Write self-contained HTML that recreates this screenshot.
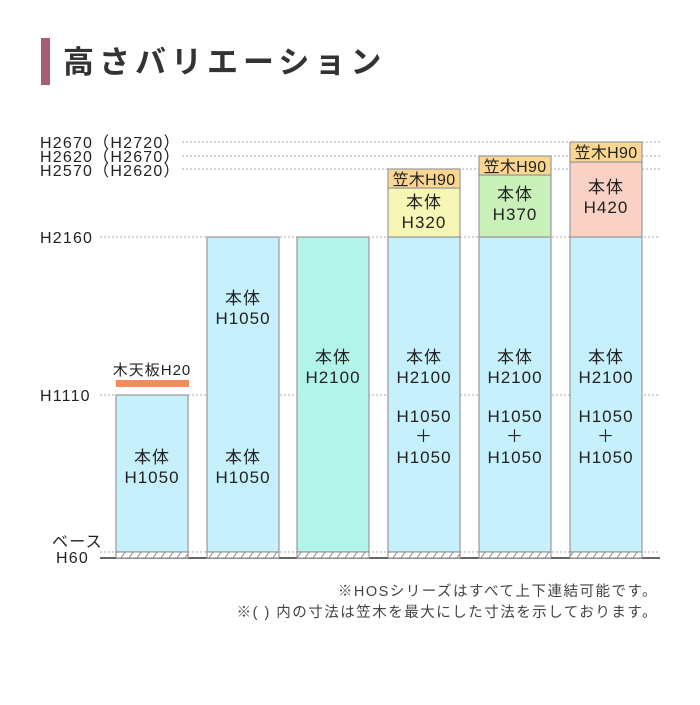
<!DOCTYPE html>
<html><head><meta charset="utf-8"><style>
html,body{margin:0;padding:0;background:#fff;}
svg text{font-family:"Liberation Sans","Noto Sans CJK JP",sans-serif;fill:#222;}
</style></head><body>
<svg width="700" height="700" viewBox="0 0 700 700" xmlns="http://www.w3.org/2000/svg">
<defs>
<pattern id="h" width="8" height="6" patternUnits="userSpaceOnUse">
<rect width="8" height="6" fill="#fff"/>
<line x1="1" y1="6" x2="5" y2="0" stroke="#888" stroke-width="1"/>
</pattern>
</defs>
<rect x="41" y="38" width="9" height="47" fill="#a65d75"/>
<text x="63" y="73" font-size="31" font-weight="bold" letter-spacing="5" style="fill:#333">高さバリエーション</text>

<g stroke="#aaa" stroke-width="1" stroke-dasharray="2,2">
<line x1="182" y1="142" x2="660" y2="142"/>
<line x1="182" y1="156" x2="660" y2="156"/>
<line x1="182" y1="169" x2="660" y2="169"/>
<line x1="100" y1="237" x2="660" y2="237"/>
<line x1="100" y1="395" x2="660" y2="395"/>
<line x1="100" y1="552" x2="660" y2="552"/>
</g>
<line x1="100" y1="558" x2="660" y2="558" stroke="#333" stroke-width="1.5"/>

<g font-size="16" letter-spacing="1.2">
<text x="40" y="148">H2670（H2720）</text>
<text x="40" y="162">H2620（H2670）</text>
<text x="40" y="176">H2570（H2620）</text>
<text x="40" y="243">H2160</text>
<text x="40" y="401">H1110</text>
<text x="52" y="547">ベース</text>
<text x="56" y="563">H60</text>
</g>

<g stroke="#999" stroke-width="1.2">
<rect x="116" y="395" width="72" height="157" fill="#c6f0fb"/>
<rect x="207" y="237" width="72" height="315" fill="#c6f0fb"/>
<rect x="297" y="237" width="72" height="315" fill="#b2f4ea"/>
<rect x="388" y="237" width="72" height="315" fill="#c6f0fb"/>
<rect x="479" y="237" width="72" height="315" fill="#c6f0fb"/>
<rect x="570" y="237" width="72" height="315" fill="#c6f0fb"/>
<rect x="388" y="188" width="72" height="49" fill="#f7f7b5"/>
<rect x="479" y="175" width="72" height="62" fill="#c9f0b9"/>
<rect x="570" y="162" width="72" height="75" fill="#f9d2c5"/>
<rect x="388" y="169" width="72" height="19" fill="#fbd690"/>
<rect x="479" y="156" width="72" height="19" fill="#fbd690"/>
<rect x="570" y="142" width="72" height="20" fill="#fbd690"/>
</g>
<g fill="url(#h)" stroke="#888" stroke-width="1">
<rect x="116" y="552" width="72" height="6"/>
<rect x="207" y="552" width="72" height="6"/>
<rect x="297" y="552" width="72" height="6"/>
<rect x="388" y="552" width="72" height="6"/>
<rect x="479" y="552" width="72" height="6"/>
<rect x="570" y="552" width="72" height="6"/>
</g>
<rect x="116" y="380" width="73" height="7" fill="#f58a5f"/>

<g font-size="17" text-anchor="middle" letter-spacing="1">
<text x="152" y="375" font-size="15">木天板H20</text>
<text x="152" y="463">本体</text><text x="152" y="483">H1050</text>
<text x="243" y="304">本体</text><text x="243" y="324">H1050</text>
<text x="243" y="463">本体</text><text x="243" y="483">H1050</text>
<text x="333" y="363">本体</text><text x="333" y="383">H2100</text>
<text x="424" y="363">本体</text><text x="424" y="383">H2100</text>
<text x="424" y="422">H1050</text><text x="424" y="442">＋</text><text x="424" y="463">H1050</text>
<text x="515" y="363">本体</text><text x="515" y="383">H2100</text>
<text x="515" y="422">H1050</text><text x="515" y="442">＋</text><text x="515" y="463">H1050</text>
<text x="606" y="363">本体</text><text x="606" y="383">H2100</text>
<text x="606" y="422">H1050</text><text x="606" y="442">＋</text><text x="606" y="463">H1050</text>
<text x="424" y="185" font-size="16" letter-spacing="0.3">笠木H90</text>
<text x="515" y="172" font-size="16" letter-spacing="0.3">笠木H90</text>
<text x="606" y="158" font-size="16" letter-spacing="0.3">笠木H90</text>
<text x="424" y="208">本体</text><text x="424" y="228">H320</text>
<text x="515" y="200">本体</text><text x="515" y="220">H370</text>
<text x="606" y="193">本体</text><text x="606" y="213">H420</text>
</g>

<g font-size="14.5" text-anchor="end" letter-spacing="1.5">
<text x="658" y="596" style="fill:#444">※HOSシリーズはすべて上下連結可能です。</text>
<text x="658" y="617" style="fill:#444">※( ) 内の寸法は笠木を最大にした寸法を示しております。</text>
</g>
</svg>
</body></html>
